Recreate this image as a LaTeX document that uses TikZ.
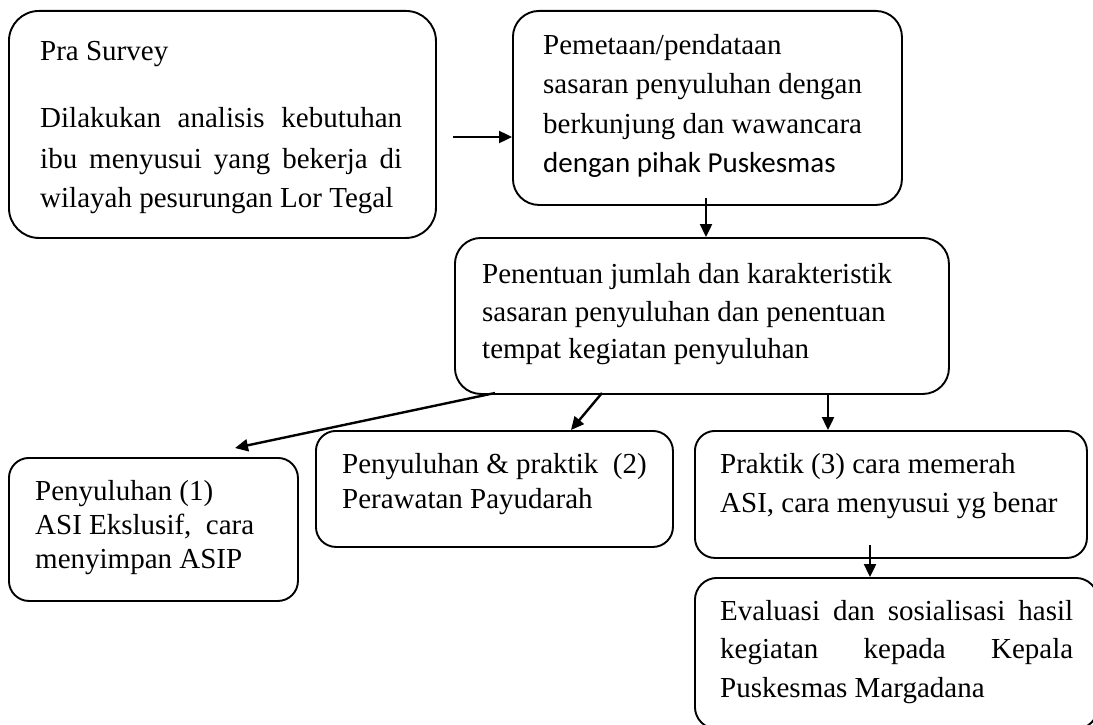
\documentclass[tikz,border=0pt]{standalone}
\usepackage{fontspec}
\setmainfont{Liberation Serif}
\newfontfamily\calib{Carlito}
\usetikzlibrary{arrows.meta}
\begin{document}
\begin{tikzpicture}[x=1pt,y=-1pt,
  box/.style={draw=black, line width=1.9pt, fill=none, inner sep=0pt, anchor=north west},
  txt/.style={anchor=base west, inner sep=0pt, font=\fontsize{29}{38}\selectfont},
  arr/.style={line width=2.4pt, -{Triangle[length=13pt,width=12pt]}}]
\useasboundingbox (0,0) rectangle (1093,725);
\fill[white] (0,0) rectangle (1093,725);
% boxes
\node[box, rounded corners=30pt, minimum width=427pt, minimum height=227pt] (A) at (8,10) {};
\node[box, rounded corners=26pt, minimum width=389pt, minimum height=194pt] (B) at (512,10) {};
\node[box, rounded corners=26pt, minimum width=494pt, minimum height=156pt] (C) at (454,237) {};
\node[box, rounded corners=20pt, minimum width=289pt, minimum height=143pt] (D) at (8,457) {};
\node[box, rounded corners=20pt, minimum width=357pt, minimum height=116pt] (E) at (315,430) {};
\node[box, rounded corners=20pt, minimum width=392pt, minimum height=127pt] (F) at (694,430) {};
\node[box, rounded corners=22pt, minimum width=403pt, minimum height=151pt] (G) at (694,577) {};
% texts A
\node[txt] (a1) at (40,61) {Pra Survey};
\node[txt] (a2) at (40,128) {\makebox[362pt][s]{Dilakukan analisis kebutuhan}};
\node[txt] (a3) at (40,168) {\makebox[362pt][s]{ibu menyusui yang bekerja di}};
\node[txt] (a4) at (40,207) {wilayah pesurungan Lor Tegal};
% texts B
\node[txt] (b1) at (543,55) {Pemetaan/pendataan};
\node[txt] (b2) at (543,94) {sasaran penyuluhan dengan};
\node[txt] (b3) at (543,133) {berkunjung dan wawancara};
\node[txt] (b4) at (543,172) {\calib dengan pihak Puskesmas};
% texts C
\node[txt] (c1) at (482,283) {Penentuan jumlah dan karakteristik};
\node[txt] (c2) at (482,321) {sasaran penyuluhan dan penentuan};
\node[txt] (c3) at (482,358) {tempat kegiatan penyuluhan};
% texts D
\node[txt] (d1) at (35,500) {Penyuluhan (1)};
\node[txt] (d2) at (35,534) {ASI Ekslusif,\ \ cara};
\node[txt] (d3) at (35,568) {menyimpan ASIP};
% texts E
\node[txt] (e1) at (342,473) {Penyuluhan \& praktik\ \ (2)};
\node[txt] (e2) at (342,508) {Perawatan Payudarah};
% texts F
\node[txt] (f1) at (720,473) {Praktik (3) cara memerah};
\node[txt] (f2) at (720,512) {ASI, cara menyusui yg benar};
% texts G
\node[txt] (g1) at (720,620) {\makebox[353pt][s]{Evaluasi dan sosialisasi hasil}};
\node[txt] (g2) at (720,658) {\makebox[353pt][s]{kegiatan kepada Kepala}};
\node[txt] (g3) at (720,697) {Puskesmas Margadana};
% connectors
\coordinate (ab) at (453,137);
\draw[arr] (ab) -- (ab -| B.west);
\coordinate (bc) at (706,198);
\draw[arr] (bc) -- (bc |- C.north);
\coordinate (cd) at (495,393);
\coordinate (dtip) at (235,448);
\draw[arr] (cd) -- (dtip);
\coordinate (ce) at (602,393);
\coordinate (etip) at (571,430);
\draw[arr] (ce) -- (etip);
\coordinate (cf) at (828,393);
\draw[arr] (cf) -- (cf |- F.north);
\coordinate (fg) at (870,545);
\draw[arr] (fg) -- (fg |- G.north);
\end{tikzpicture}
\end{document}
